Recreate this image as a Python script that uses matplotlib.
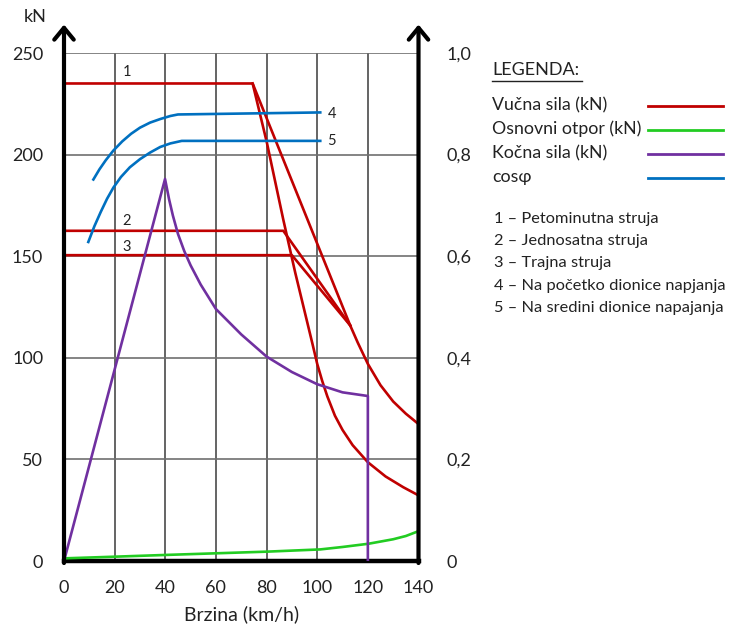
import matplotlib.pyplot as plt
from matplotlib.lines import Line2D

plt.rcParams['font.family'] = ['Lato', 'DejaVu Sans']

# --- data ---
# red: traction force (kN) vs speed (km/h)
red1_v = [0, 74.5, 80.1, 86.6, 91.3, 98, 100, 102, 104, 107, 110, 114, 120, 127, 134, 140]
red1_f = [235, 235, 206, 168, 142, 107.5, 97, 88.5, 81, 71.5, 64.5, 57, 48.6, 41.6, 36.3, 32.3]
red1b_v = [74.5, 113, 116, 120, 125, 130, 135, 140]
red1b_f = [235, 116, 107.5, 97, 86.5, 78.5, 72.5, 67.4]
red2_v = [0, 86.6, 113]
red2_f = [162.5, 162.5, 116]
red3_v = [0, 90, 113]
red3_f = [150.5, 150.5, 116]

# green: basic resistance
green_v = [0, 19.5, 40.6, 60.3, 80.1, 101.2, 110, 120.3, 130, 135, 139.4]
green_f = [1.3, 2.1, 3.0, 3.8, 4.6, 5.7, 6.9, 8.5, 10.7, 12.3, 14.4]

# purple: braking force
purple_v = [0, 39.9, 41.5, 43, 45, 47.5, 50, 54, 60, 70, 80, 90, 100, 110, 120, 120]
purple_f = [0, 188, 178, 170, 161, 152.5, 145.5, 136, 124, 111.5, 100.6, 93, 87, 83, 81.2, 0]

# blue: cos phi (right axis)
cos4_v = [11.6, 14, 16.5, 19.5, 23, 26.5, 30, 34, 38, 42, 45, 101.2]
cos4 = [0.751, 0.771, 0.789, 0.808, 0.826, 0.841, 0.853, 0.863, 0.870, 0.876, 0.879, 0.883]
cos5_v = [9.6, 12, 14.5, 17, 19.5, 22.5, 26, 30, 34, 38, 42, 46.5, 101.2]
cos5 = [0.628, 0.659, 0.687, 0.713, 0.735, 0.756, 0.775, 0.791, 0.804, 0.815, 0.822, 0.827, 0.827]

x_ticks = [0, 20, 40, 60, 80, 100, 120, 140]
y_ticks = [0, 50, 100, 150, 200, 250]
y2_ticks = [0, 0.2, 0.4, 0.6, 0.8, 1.0]
y2_labels = ['0', '0,2', '0,4', '0,6', '0,8', '1,0']

legend_items = [('Vučna sila (kN)', '#C00000'), ('Osnovni otpor (kN)', '#22CC22'),
                ('Kočna sila (kN)', '#7030A0'), ('cosφ', '#0070C0')]
notes = ['1 – Petominutna struja', '2 – Jednosatna struja', '3 – Trajna struja',
         '4 – Na početko dionice napjanja', '5 – Na sredini dionice napajanja']

RED, GREEN, PURPLE, BLUE = '#C00000', '#22CC22', '#7030A0', '#0070C0'
W, H = 742, 624

fig = plt.figure(figsize=(W / 100, H / 100), dpi=100)
ax = fig.add_axes([64 / W, 1 - 561 / H, (418.5 - 64) / W, (561 - 53) / H])
ax.set_xlim(0, 140)
ax.set_ylim(0, 250)

# grid
for xv in x_ticks[1:-1]:
    ax.axvline(xv, color='#4a4a4a', lw=1.2, zorder=1)
for yv in y_ticks[1:]:
    ax.axhline(yv, color='#707070', lw=1.2, zorder=1)

lw = 1.9
ax.plot(red1_v, red1_f, color=RED, lw=lw, zorder=3)
ax.plot(red1b_v, red1b_f, color=RED, lw=lw, zorder=3)
ax.plot(red2_v, red2_f, color=RED, lw=lw, zorder=3)
ax.plot(red3_v, red3_f, color=RED, lw=lw, zorder=3)
ax.plot(green_v, green_f, color=GREEN, lw=lw, zorder=3)
ax.plot(purple_v, purple_f, color=PURPLE, lw=lw, zorder=3)

ax2 = ax.twinx()
ax2.set_ylim(0, 1.0)
ax2.plot(cos4_v, cos4, color=BLUE, lw=lw, zorder=3)
ax2.plot(cos5_v, cos5, color=BLUE, lw=lw, zorder=3)

# curve numbers
lab_kw = dict(fontsize=10.5, color='#222222', ha='center', va='center')
ax.text(24.8, 240.5, '1', **lab_kw)
ax.text(24.8, 167.5, '2', **lab_kw)
ax.text(24.8, 154.5, '3', **lab_kw)
ax.text(105.8, 220, '4', **lab_kw)
ax.text(105.8, 206.5, '5', **lab_kw)

# spines & arrows
for a in (ax, ax2):
    for s in ('top', 'left', 'right'):
        a.spines[s].set_visible(False)
ax2.spines['bottom'].set_visible(False)
ax.spines['bottom'].set_linewidth(3.2)
ax.spines['bottom'].set_capstyle('projecting')
arrow = dict(arrowstyle='->,head_length=0.85,head_width=0.7', lw=3, color='black',
             shrinkA=0, shrinkB=0, mutation_scale=10)
ax.annotate('', xy=(0, 264), xytext=(0, -1), arrowprops=arrow, annotation_clip=False, zorder=5)
ax.annotate('', xy=(140, 264), xytext=(140, -1), arrowprops=arrow, annotation_clip=False, zorder=5)

ax.set_xticks(x_ticks)
ax.set_yticks(y_ticks)
ax.tick_params(axis='both', length=0, labelsize=13, colors='#222222')
ax.tick_params(axis='x', pad=14)
ax.tick_params(axis='y', pad=15)
ax2.set_yticks(y2_ticks)
ax2.set_yticklabels(y2_labels)
ax2.tick_params(axis='y', length=0, labelsize=13, colors='#222222', pad=20)
ax.set_xlabel('Brzina (km/h)', fontsize=14, color='#222222', labelpad=6)
fig.text(35 / W, 1 - 17 / H, 'kN', fontsize=13, color='#222222', ha='center', va='center')

# legend panel
fig.text(492 / W, 1 - 70 / H, 'LEGENDA:', fontsize=13, color='#222222', va='center')
fig.add_artist(Line2D([492 / W, 582 / W], [1 - 81 / H, 1 - 81 / H], color='#222222', lw=1))
ys = [105, 129, 153, 177]
for (txt, col), yy in zip(legend_items, ys):
    fig.text(492 / W, 1 - yy / H, txt, fontsize=12.8, color='#222222', va='center')
    fig.add_artist(Line2D([648 / W, 723 / W], [1 - (yy + 1) / H] * 2, color=col, lw=2))
for i, txt in enumerate(notes):
    fig.text(494 / W, 1 - (219 + 22.2 * i) / H, txt, fontsize=11.8, color='#222222', va='center')

fig.savefig('out.png', dpi=100)
